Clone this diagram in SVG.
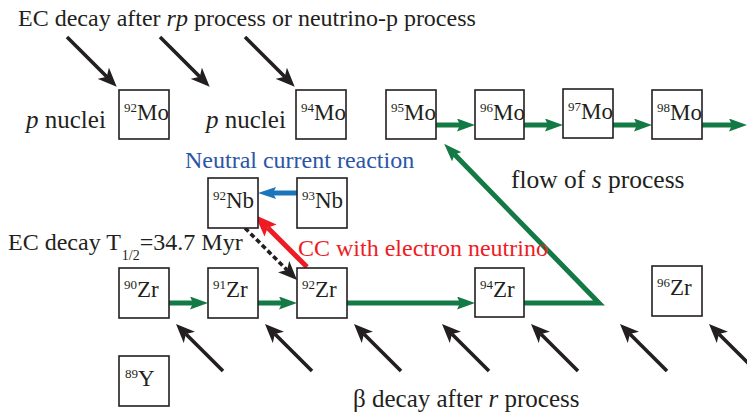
<svg xmlns="http://www.w3.org/2000/svg" width="747" height="416" viewBox="0 0 747 416">
<style>
text{font-family:"Liberation Serif","Times New Roman",serif;fill:#231f20}
.t{font-size:24px}
.big{font-size:25px}
.mid{font-size:25.5px}
.lbl{font-size:23px}
.sup{font-size:13px}
.box{fill:#fff;stroke:#231f20;stroke-width:1.6}
.g{fill:none;stroke:#137a45;stroke-width:5}
.k{fill:none;stroke:#231f20;stroke-width:3.6}
</style>
<defs>
<marker id="ga" viewBox="0 0 18 13" refX="3" refY="6.5" markerWidth="18" markerHeight="13" markerUnits="userSpaceOnUse" orient="auto"><path d="M0,0 L18,6.5 L0,13 L3,6.5 z" fill="#137a45"/></marker>
<marker id="ka" viewBox="0 0 19 16" refX="5" refY="8" markerWidth="19" markerHeight="16" markerUnits="userSpaceOnUse" orient="auto"><path d="M0,0 L19,8 L0,16 L5,8 z" fill="#231f20"/></marker>
<marker id="ba" viewBox="0 0 18 12" refX="3" refY="6" markerWidth="18" markerHeight="12" markerUnits="userSpaceOnUse" orient="auto"><path d="M0,0 L18,6 L0,12 L3,6 z" fill="#1b75bb"/></marker>
<marker id="ra" viewBox="0 0 22 17" refX="4" refY="8.5" markerWidth="22" markerHeight="17" markerUnits="userSpaceOnUse" orient="auto"><path d="M0,0 L22,8.5 L0,17 L4,8.5 z" fill="#ed1c24"/></marker>
</defs>

<g id="connectors">
<g marker-end="url(#ka)">
<line class="k" x1="67" y1="37" x2="106.8" y2="76.8"/>
<line class="k" x1="160" y1="37" x2="199.8" y2="76.8"/>
<line class="k" x1="245" y1="37" x2="284.8" y2="76.8"/>
<line class="k" x1="223" y1="371" x2="185.9" y2="333.9"/>
<line class="k" x1="312" y1="371" x2="274.9" y2="333.9"/>
<line class="k" x1="401" y1="371" x2="363.9" y2="333.9"/>
<line class="k" x1="489" y1="371" x2="451.9" y2="333.9"/>
<line class="k" x1="578" y1="371" x2="540.9" y2="333.9"/>
<line class="k" x1="667" y1="371" x2="629.9" y2="333.9"/>
<line class="k" x1="756" y1="371" x2="718.9" y2="333.9"/>
<line class="k" x1="245" y1="228" x2="287.1" y2="270.1" stroke-dasharray="5 3"/>
</g>
<g marker-end="url(#ga)">
<line class="g" x1="436" y1="125" x2="460" y2="125"/>
<line class="g" x1="524" y1="125" x2="548" y2="125"/>
<line class="g" x1="613" y1="125" x2="637" y2="125"/>
<line class="g" x1="702" y1="125" x2="732" y2="125"/>
<line class="g" x1="169" y1="303" x2="193" y2="303"/>
<line class="g" x1="258" y1="303" x2="282" y2="303"/>
<line class="g" x1="347" y1="303" x2="460" y2="303"/>
<polyline class="g" points="524,303 599,303 454.6,154.6"/>
</g>
<line x1="297" y1="193" x2="273" y2="193" stroke="#1b75bb" stroke-width="5" marker-end="url(#ba)"/>
<line x1="307" y1="267" x2="267.7" y2="227.7" stroke="#ed1c24" stroke-width="5" marker-end="url(#ra)"/>
</g>

<g id="n-mo92"><rect class="box" x="119" y="90" width="50" height="49"/><text class="lbl" x="124" y="120"><tspan class="sup" dy="-8">92</tspan><tspan dy="8">Mo</tspan></text></g>
<g id="n-mo94"><rect class="box" x="296" y="90" width="50" height="49"/><text class="lbl" x="301" y="120"><tspan class="sup" dy="-8">94</tspan><tspan dy="8">Mo</tspan></text></g>
<g id="n-mo95"><rect class="box" x="386" y="90" width="50" height="49"/><text class="lbl" x="391" y="120"><tspan class="sup" dy="-8">95</tspan><tspan dy="8">Mo</tspan></text></g>
<g id="n-mo96"><rect class="box" x="475" y="90" width="49" height="49"/><text class="lbl" x="480" y="120"><tspan class="sup" dy="-8">96</tspan><tspan dy="8">Mo</tspan></text></g>
<g id="n-mo97"><rect class="box" x="563" y="89" width="50" height="49"/><text class="lbl" x="568" y="119"><tspan class="sup" dy="-8">97</tspan><tspan dy="8">Mo</tspan></text></g>
<g id="n-mo98"><rect class="box" x="652" y="90" width="50" height="49"/><text class="lbl" x="657" y="120"><tspan class="sup" dy="-8">98</tspan><tspan dy="8">Mo</tspan></text></g>
<g id="n-nb92"><rect class="box" x="208" y="178" width="50" height="50"/><text class="lbl" x="213" y="208"><tspan class="sup" dy="-8">92</tspan><tspan dy="8">Nb</tspan></text></g>
<g id="n-nb93"><rect class="box" x="297" y="178" width="50" height="50"/><text class="lbl" x="302" y="208"><tspan class="sup" dy="-8">93</tspan><tspan dy="8">Nb</tspan></text></g>
<g id="n-zr90"><rect class="box" x="119" y="268" width="50" height="50"/><text class="lbl" x="124" y="297"><tspan class="sup" dy="-8">90</tspan><tspan dy="8">Zr</tspan></text></g>
<g id="n-zr91"><rect class="box" x="208" y="268" width="50" height="50"/><text class="lbl" x="213" y="297"><tspan class="sup" dy="-8">91</tspan><tspan dy="8">Zr</tspan></text></g>
<g id="n-zr92"><rect class="box" x="297" y="268" width="50" height="50"/><text class="lbl" x="302" y="297"><tspan class="sup" dy="-8">92</tspan><tspan dy="8">Zr</tspan></text></g>
<g id="n-zr94"><rect class="box" x="475" y="268" width="49" height="49"/><text class="lbl" x="480" y="297"><tspan class="sup" dy="-8">94</tspan><tspan dy="8">Zr</tspan></text></g>
<g id="n-zr96"><rect class="box" x="652" y="266" width="50" height="50"/><text class="lbl" x="657" y="295"><tspan class="sup" dy="-8">96</tspan><tspan dy="8">Zr</tspan></text></g>
<g id="n-y89"><rect class="box" x="119" y="356" width="50" height="50"/><text class="lbl" x="125" y="386"><tspan class="sup" dy="-8">89</tspan><tspan dy="8">Y</tspan></text></g>

<g id="labels">
<text class="t" x="18" y="26">EC decay after <tspan font-style="italic">rp</tspan> process or neutrino-p process</text>
<text class="big" x="26" y="128"><tspan font-style="italic">p</tspan> nuclei</text>
<text class="big" x="206" y="128"><tspan font-style="italic">p</tspan> nuclei</text>
<text class="t" x="185" y="168" style="fill:#2b55a7">Neutral current reaction</text>
<text class="mid" x="511" y="188">flow of <tspan font-style="italic">s</tspan> process</text>
<text class="t" x="8" y="250">EC decay T<tspan font-size="14px" dy="10" dx="1">1/2</tspan><tspan dy="-10">=34.7 Myr</tspan></text>
<text class="t" x="298" y="256" style="fill:#ed1c24">CC with electron neutrino</text>
<text x="353" y="407" style="font-size:25px">β decay after <tspan font-style="italic">r</tspan> process</text>
</g>
</svg>
